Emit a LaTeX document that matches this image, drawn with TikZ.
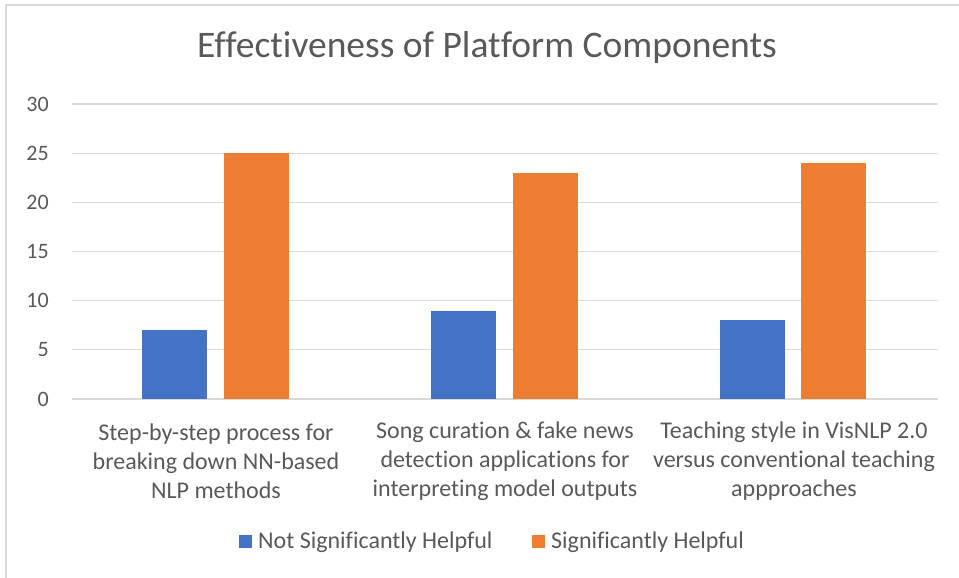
\documentclass[tikz,border=0pt]{standalone}
\usepackage{fontspec}
\setmainfont{Carlito}[Ligatures=NoCommon]
\definecolor{txtgray}{HTML}{595959}
\definecolor{gridgray}{HTML}{D9D9D9}
\definecolor{barblue}{HTML}{4472C4}
\definecolor{barorange}{HTML}{ED7D31}
\begin{document}
\begin{tikzpicture}[x=1pt,y=-1pt,
    tick/.style={anchor=east,text=txtgray,font=\fontsize{22}{24}\selectfont,inner sep=0pt},
    catlabel/.style={align=center,text=txtgray,font=\fontsize{24}{29}\selectfont,inner sep=0pt},
    legtext/.style={anchor=west,text=txtgray,font=\fontsize{24}{26}\selectfont,inner sep=0pt}]
  \useasboundingbox[fill=white] (0,0) rectangle (959,578);
  % frame
  \draw[gridgray,line width=2pt] (6,578) -- (6,5) -- (959,5);
  % title
  \node[text=txtgray,font=\fontsize{37.5}{40}\selectfont] (title) at (487,48) {Effectiveness of Platform Components};
  % gridlines and ticks
  \foreach \v in {0,5,...,30} {
    \draw[gridgray,line width=1.2pt] (72,399-9.8333*\v) -- (938,399-9.8333*\v);
    \node[tick] (t\v) at (49,399-9.8333*\v) {\v};
  }
  % bars
  \begin{scope}[shift={(0,399)},y=9.8333pt]
    \fill[barblue] (142,0) rectangle (207,7);
    \fill[barorange] (224,0) rectangle (289,25);
    \fill[barblue] (431,0) rectangle (496,9);
    \fill[barorange] (513,0) rectangle (578,23);
    \fill[barblue] (720,0) rectangle (785,8);
    \fill[barorange] (801,0) rectangle (866,24);
  \end{scope}
  % category labels
  \node[catlabel] (c1) at (216,461) {Step-by-step process for\\breaking down NN-based\\NLP methods};
  \node[catlabel] (c2) at (505,461) {Song curation \& fake news\\detection applications for\\interpreting model outputs};
  \node[catlabel] (c3) at (794,461) {Teaching style in VisNLP 2.0\\versus conventional teaching\\appproaches};
  % legend
  \fill[barblue] (239,535) rectangle (252,548);
  \node[legtext] (l1) at (258,542) {Not Significantly Helpful};
  \fill[barorange] (532,535) rectangle (545,548);
  \node[legtext] (l2) at (551,542) {Significantly Helpful};
\end{tikzpicture}
\end{document}
